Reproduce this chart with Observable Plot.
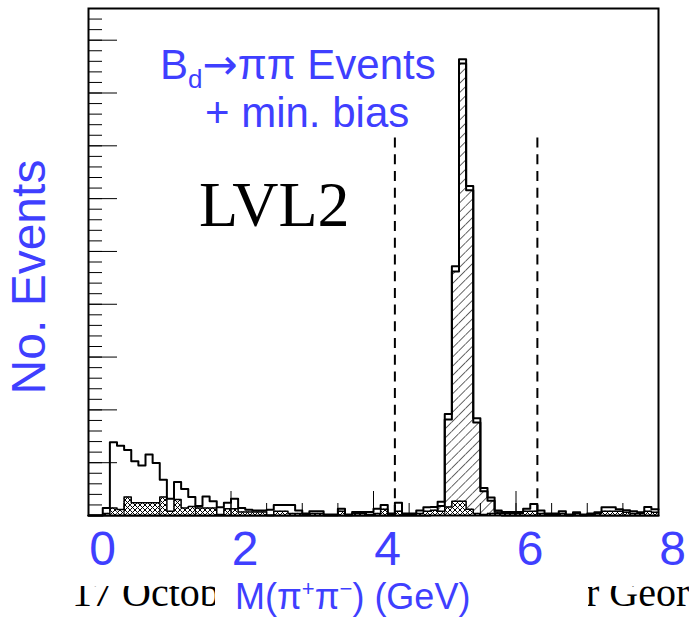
<!DOCTYPE html>
<html><head><meta charset="utf-8">
<script src="https://cdn.jsdelivr.net/npm/d3@7"></script>
<script src="https://cdn.jsdelivr.net/npm/@observablehq/plot@0.6"></script>
<style>
html,body{margin:0;padding:0;background:#fff;}
#wrap{position:relative;width:689px;height:618px;overflow:hidden;font-family:"Liberation Sans",Arial,sans-serif;background:#fff;}
#chart{position:absolute;left:0;top:0;}
.abs{position:absolute;white-space:nowrap;line-height:1;}
.blue{color:#3f3fff;}
.serif{font-family:"Liberation Serif","Times New Roman",serif;color:#000;}
</style></head><body>
<svg width="0" height="0" style="position:absolute">
  <defs>
    <pattern id="hatch" patternUnits="userSpaceOnUse" width="6.5" height="6.5" patternTransform="rotate(45)">
      <rect width="6.5" height="6.5" fill="white"/>
      <line x1="0" y1="0" x2="0" y2="6.5" stroke="black" stroke-width="1.2"/>
    </pattern>
    <pattern id="cross" patternUnits="userSpaceOnUse" width="5" height="5">
      <rect width="5" height="5" fill="white"/>
      <path d="M0,0L5,5M5,0L0,5" stroke="black" stroke-width="1"/>
    </pattern>
  </defs>
</svg>
<div id="wrap">
  <div id="chart"></div>
  <div class="abs blue" style="left:160px;top:44px;font-size:42px;">B<span style="font-size:26px;position:relative;top:9px;">d</span><span style="font-family:'DejaVu Sans';">→</span>ππ Events</div>
  <div class="abs blue" style="left:205px;top:92px;font-size:42px;">+ min. bias</div>
  <div class="abs serif" style="left:199px;top:173px;font-size:64px;">LVL2</div>
  <div class="abs blue" style="left:29px;top:277px;font-size:48px;transform:translate(-50%,-50%) rotate(-90deg);">No. Events</div>
  <div class="abs" style="left:0;top:586px;width:215px;height:32px;overflow:hidden;">
    <div class="abs serif" style="left:72px;top:-13px;font-size:40px;">17 Octobe</div>
  </div>
  <div class="abs" style="left:588px;top:586px;width:101px;height:32px;overflow:hidden;">
    <div class="abs serif" style="left:-2px;top:-13px;font-size:40px;">r Geor</div>
  </div>
  <div class="abs blue" style="left:235px;top:579px;font-size:36px;">M(π<span style="font-size:22px;position:relative;top:-13px;">+</span>π<span style="font-size:22px;position:relative;top:-13px;">−</span>) (GeV)</div>
</div>
<script>
// Bins of 0.1 GeV from 0 to 8 GeV
const binWidth = 0.1;
const nBins = 80;

// Open histogram (total: B_d -> pi pi events + min. bias)
const totalCounts = [
  0,0,3.5,34.7,33,31,25.7,23.7,28.9,24.8,
  16.9,7.9,15.8,12.6,8.7,4.5,9,6.8,3.9,6,
  7.9,3.6,2.7,2.4,2.4,2.7,5,5,5,2.4,
  1,2,2,0.5,0.5,3.2,0.5,1.6,1.6,1.6,
  3.2,5,1,6,1,1,2.4,3.9,4,6.5,
  48,118,216,156,46,13,8.5,2.4,1.6,1.6,
  1.6,3.2,5.5,2.4,1,1,2,0.5,1.5,0.5,
  1,1.5,3.9,3.9,3,2.5,2,1.5,4,3
];
// Diagonally hatched histogram (signal)
const signalCounts = [
  0,0,0,0,0,0,0,0,0,0,
  0,0,0,0,0,0,0,0,0,0,
  0,0,0,0,0,0,0,0,0,0,
  0,0,0,0,0,0,0,0,0,0,
  0,0,0,0,0,0,0,0,1,4.5,
  45.5,115.5,214,154,44,11.5,7,1.5,0,0,
  0,0,0,0,0,0,0,0,0,0,
  0,0,0,0,0,0,0,0,0,0
];
// Cross-hatched histogram
const crossCounts = [
  0,0,1,3.6,2.8,8.7,6,6,6,6,
  8.7,2,7.6,3.6,4.3,3.6,3.6,3.6,0.5,3.2,
  3.2,1.7,1.7,1.7,1.7,0,2,2,1,1,
  0.5,1,1,0,0,2,0,1,1,0.5,
  1,3,0.5,2,0.5,0.5,1,2,2.5,2,
  4,6.8,6.8,3,1,0.5,1,1,1,1,
  1,2,2,1,0.5,0.5,1,0,1,0,
  0.5,1,2,2,2,1.5,1,1,2,1.5
];

// Mass window cuts (dashed lines)
const cuts = [4.3, 6.3];
const cutTop = 180;

// Axis ticks
const xMinorTicks = d3.range(0, 8.001, 0.5);
const xMajorTicks = [0, 2, 4, 6, 8];
const xTickLabels = ["0", "2", "4", "6", "8"];
const yMinorTicks = d3.range(0, 240.001, 5);
const yMajorTicks = d3.range(0, 240.001, 25);

const blue = "#3f3fff";

const bins = d3.range(nBins).map(i => ({
  x1: +(i * binWidth).toFixed(2),
  x2: +((i + 1) * binWidth).toFixed(2),
  total: totalCounts[i], sig: signalCounts[i], cross: crossCounts[i]
}));
function stepLine(vals) {
  return d3.range(nBins + 1).map(i => ({x: +(i * binWidth).toFixed(2), y: vals[Math.min(i, nBins - 1)]}));
}

const chart = Plot.plot({
  width: 689, height: 618,
  marginLeft: 88, marginRight: 31, marginTop: 8, marginBottom: 103,
  x: {domain: [0, 8], axis: null},
  y: {domain: [0, 240], axis: null},
  style: {background: "transparent", overflow: "visible"},
  marks: [
    Plot.rectY(bins, {x1: "x1", x2: "x2", y: "sig", fill: "url(#hatch)"}),
    Plot.line(stepLine(signalCounts), {x: "x", y: "y", curve: "step-after", stroke: "black", strokeWidth: 2}),
    Plot.rectY(bins, {x1: "x1", x2: "x2", y: "cross", fill: "url(#cross)"}),
    Plot.line(stepLine(crossCounts), {x: "x", y: "y", curve: "step-after", stroke: "black", strokeWidth: 1.5}),
    Plot.line(stepLine(totalCounts), {x: "x", y: "y", curve: "step-after", stroke: "black", strokeWidth: 2}),
    Plot.ruleX(cuts, {x: d => d, y1: 0, y2: cutTop, stroke: "black", strokeWidth: 2, strokeDasharray: "10,6.7"}),
    Plot.axisX(xMinorTicks, {tickSize: 12, dy: -12, tickFormat: () => "", label: null, stroke: "black"}),
    Plot.axisX(xMajorTicks, {tickSize: 24, dy: -24, tickFormat: () => "", label: null, stroke: "black"}),
    Plot.axisY(yMinorTicks, {tickSize: 14, dx: 14, tickFormat: () => "", label: null, stroke: "black"}),
    Plot.axisY(yMajorTicks, {tickSize: 29, dx: 29, tickFormat: () => "", label: null, stroke: "black"}),
    Plot.frame({stroke: "black", strokeWidth: 2}),
    Plot.text(xMajorTicks, {x: d => d, text: (d, i) => xTickLabels[i], frameAnchor: "bottom", lineAnchor: "top", dy: 15, dx: 14, fontSize: 48, fill: blue, fontFamily: "Liberation Sans, Arial, sans-serif"})
  ]
});
document.getElementById("chart").appendChild(chart);
</script>
</body></html>
